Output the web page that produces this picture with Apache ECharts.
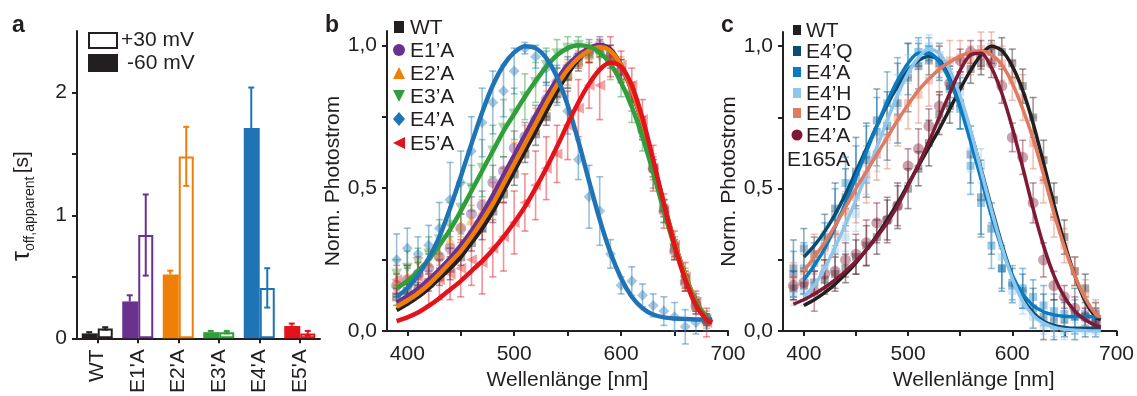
<!DOCTYPE html>
<html><head><meta charset="utf-8">
<script src="https://cdn.jsdelivr.net/npm/echarts@6/dist/echarts.min.js"></script>
<style>html,body{margin:0;padding:0;background:#fff}#c{width:1137px;height:396px}</style>
</head><body><div id="c"></div>
<script>
// ---------- Panel a data ----------
const catsA = ['WT', "E1'A", "E2'A", "E3'A", "E4'A", "E5'A"];
const neg60 = [0.04, 0.30, 0.52, 0.05, 1.71, 0.10];
const neg60Err = [0.01, 0.05, 0.03, 0.01, 0.33, 0.02];
const pos30 = [0.08, 0.84, 1.48, 0.05, 0.41, 0.04];
const pos30Err = [0.01, 0.33, 0.24, 0.01, 0.16, 0.02];
const yTicksA = [0, 1, 2];

// ---------- wavelengths ----------
const wl = [390,400,410,420,430,440,450,460,470,480,490,500,510,520,530,540,550,560,570,580,590,600,610,620,630,640,650,660,670,680];
const fitWl = [390,400,410,420,430,440,450,460,470,480,490,500,510,520,530,540,550,560,570,580,590,600,610,620,630,640,650,660,670,680,685];
const xTickLabels = [400, 500, 600, 700];
const yTickLabels = [0, 0.5, 1.0];

// ---------- Panel b data ----------
const bNames = ['WT', 'E1’A', 'E2’A', 'E3’A', 'E4’A', 'E5’A'];
const bWT_pts = [0.12,0.14,0.15,0.17,0.19,0.22,0.26,0.31,0.36,0.42,0.48,0.55,0.62,0.69,0.75,0.83,0.89,0.94,0.97,0.99,0.97,0.91,0.83,0.71,0.57,0.43,0.29,0.18,0.09,0.04];
const bWT_err = [0.03,0.03,0.02,0.03,0.03,0.04,0.03,0.03,0.04,0.04,0.03,0.04,0.03,0.04,0.03,0.03,0.04,0.03,0.03,0.03,0.03,0.04,0.03,0.03,0.03,0.03,0.03,0.03,0.02,0.02];
const bE1_pts = [0.16,0.18,0.20,0.22,0.26,0.29,0.36,0.41,0.44,0.52,0.56,0.64,0.68,0.74,0.81,0.87,0.92,0.96,0.98,1.00,0.96,0.91,0.82,0.71,0.57,0.42,0.28,0.17,0.09,0.04];
const bE1_err = [0.04,0.05,0.04,0.05,0.05,0.06,0.05,0.06,0.05,0.06,0.05,0.06,0.05,0.05,0.06,0.05,0.04,0.04,0.04,0.03,0.04,0.04,0.05,0.04,0.04,0.04,0.03,0.03,0.03,0.02];
const bE2_pts = [0.17,0.19,0.21,0.24,0.27,0.32,0.37,0.39,0.42,0.47,0.53,0.61,0.68,0.74,0.79,0.85,0.90,0.95,0.97,0.99,0.96,0.92,0.83,0.72,0.58,0.43,0.29,0.18,0.09,0.04];
const bE2_err = [0.03,0.04,0.03,0.04,0.04,0.05,0.04,0.05,0.04,0.05,0.04,0.05,0.04,0.04,0.05,0.04,0.04,0.03,0.03,0.03,0.03,0.04,0.04,0.03,0.04,0.03,0.03,0.03,0.02,0.02];
const bE3_pts = [0.20,0.22,0.24,0.27,0.32,0.37,0.43,0.50,0.57,0.63,0.71,0.76,0.82,0.87,0.93,0.97,0.99,1.00,0.98,0.96,0.93,0.87,0.79,0.68,0.55,0.42,0.29,0.18,0.10,0.04];
const bE3_err = [0.05,0.06,0.05,0.06,0.07,0.08,0.09,0.08,0.10,0.09,0.10,0.09,0.08,0.07,0.06,0.05,0.04,0.03,0.03,0.04,0.05,0.05,0.06,0.05,0.05,0.04,0.04,0.04,0.03,0.03];
const bE4_pts = [0.25,0.29,0.27,0.30,0.36,0.46,0.52,0.63,0.73,0.80,0.84,0.91,0.99,0.96,0.92,0.86,0.77,0.60,0.47,0.42,0.27,0.16,0.175,0.125,0.09,0.07,0.05,0.015,0.03,0.03];
const bE4_err = [0.09,0.07,0.06,0.07,0.09,0.13,0.11,0.12,0.12,0.11,0.09,0.08,0.02,0.04,0.06,0.07,0.08,0.07,0.11,0.12,0.05,0.03,0.05,0.04,0.04,0.05,0.05,0.06,0.04,0.03];
const bE5_pts = [0.18,0.17,0.19,0.17,0.18,0.20,0.22,0.25,0.24,0.29,0.33,0.38,0.45,0.51,0.57,0.62,0.72,0.78,0.86,0.86,0.96,0.93,0.86,0.74,0.57,0.42,0.30,0.19,0.10,0.03];
const bE5_err = [0.05,0.06,0.07,0.08,0.07,0.09,0.10,0.09,0.11,0.10,0.12,0.11,0.10,0.12,0.11,0.10,0.12,0.10,0.08,0.12,0.07,0.05,0.06,0.07,0.08,0.06,0.05,0.05,0.04,0.05];
const bWT_fit = [0.074,0.095,0.12,0.15,0.185,0.22,0.26,0.31,0.36,0.42,0.49,0.56,0.63,0.70,0.77,0.84,0.90,0.95,0.985,1.00,0.985,0.93,0.845,0.73,0.59,0.445,0.31,0.195,0.105,0.045,0.03];
const bE1_fit = [0.10,0.122,0.148,0.18,0.215,0.255,0.30,0.35,0.41,0.475,0.545,0.615,0.685,0.755,0.82,0.88,0.93,0.965,0.99,1.00,0.98,0.925,0.84,0.725,0.585,0.44,0.305,0.19,0.10,0.045,0.03];
const bE2_fit = [0.085,0.107,0.132,0.163,0.20,0.24,0.28,0.33,0.385,0.445,0.515,0.585,0.655,0.725,0.795,0.86,0.915,0.955,0.982,0.993,0.98,0.93,0.845,0.73,0.59,0.445,0.31,0.195,0.105,0.045,0.03];
const bE3_fit = [0.15,0.175,0.21,0.25,0.30,0.355,0.42,0.49,0.56,0.63,0.70,0.76,0.82,0.875,0.925,0.965,0.99,1.00,0.995,0.975,0.935,0.87,0.785,0.68,0.555,0.42,0.295,0.185,0.10,0.045,0.035];
const bE4_fit = [0.12,0.15,0.195,0.255,0.33,0.43,0.54,0.655,0.765,0.86,0.93,0.975,0.997,0.99,0.955,0.89,0.79,0.665,0.525,0.39,0.275,0.185,0.12,0.08,0.058,0.048,0.044,0.042,0.041,0.041,0.041];
const bE5_fit = [0.035,0.048,0.065,0.088,0.115,0.145,0.175,0.21,0.245,0.285,0.33,0.38,0.435,0.50,0.57,0.645,0.725,0.80,0.865,0.915,0.94,0.925,0.86,0.745,0.60,0.445,0.30,0.18,0.09,0.04,0.03];

// ---------- Panel c data ----------
const cNames = ['WT', 'E4’Q', 'E4’A', 'E4’H', 'E4’D', 'E4’A'];
const cWT_pts = [0.15,0.16,0.17,0.18,0.20,0.22,0.26,0.30,0.33,0.39,0.44,0.50,0.57,0.66,0.76,0.79,0.86,0.92,0.94,0.98,0.98,0.94,0.86,0.75,0.60,0.46,0.33,0.21,0.15,0.06];
const cWT_err = [0.04,0.05,0.04,0.05,0.06,0.05,0.06,0.07,0.06,0.07,0.08,0.07,0.06,0.08,0.07,0.06,0.05,0.05,0.04,0.04,0.05,0.05,0.06,0.07,0.07,0.06,0.06,0.05,0.05,0.04];
const cQ_pts = [0.22,0.29,0.27,0.33,0.43,0.47,0.56,0.60,0.74,0.72,0.80,0.89,0.93,0.95,0.94,0.86,0.80,0.62,0.47,0.36,0.22,0.16,0.14,0.08,0.05,0.04,0.04,0.06,0.05,0.03];
const cQ_err = [0.10,0.07,0.06,0.08,0.09,0.10,0.12,0.13,0.11,0.12,0.14,0.12,0.08,0.05,0.06,0.07,0.09,0.10,0.13,0.09,0.08,0.06,0.06,0.07,0.08,0.07,0.06,0.09,0.07,0.05];
const cA_pts = [0.20,0.22,0.24,0.30,0.40,0.52,0.54,0.62,0.70,0.80,0.86,0.92,0.98,0.99,0.95,0.85,0.78,0.58,0.45,0.30,0.22,0.17,0.15,0.12,0.09,0.07,0.06,0.05,0.06,0.04];
const cA_err = [0.08,0.09,0.07,0.08,0.10,0.09,0.11,0.10,0.12,0.11,0.10,0.09,0.05,0.04,0.06,0.08,0.07,0.10,0.12,0.08,0.07,0.06,0.07,0.06,0.07,0.06,0.05,0.06,0.05,0.04];
const cH_pts = [0.13,0.14,0.17,0.22,0.28,0.33,0.41,0.53,0.62,0.73,0.84,0.92,0.98,1.00,0.97,0.90,0.84,0.63,0.58,0.36,0.26,0.14,0.10,0.05,0.02,0.01,0.00,0.00,0.01,0.00];
const cH_err = [0.04,0.05,0.04,0.05,0.06,0.05,0.06,0.05,0.06,0.07,0.06,0.05,0.04,0.04,0.04,0.05,0.06,0.07,0.06,0.05,0.05,0.04,0.04,0.04,0.03,0.03,0.03,0.03,0.02,0.02];
const cD_pts = [0.19,0.21,0.27,0.29,0.34,0.42,0.47,0.55,0.62,0.68,0.75,0.80,0.83,0.88,0.92,0.95,0.96,0.95,0.99,1.00,0.94,0.88,0.82,0.66,0.53,0.40,0.30,0.21,0.13,0.07];
const cD_err = [0.05,0.06,0.07,0.06,0.08,0.07,0.09,0.10,0.09,0.11,0.10,0.09,0.10,0.09,0.08,0.07,0.06,0.05,0.06,0.05,0.06,0.07,0.08,0.09,0.08,0.07,0.06,0.05,0.05,0.04];
const cE_pts = [0.16,0.17,0.14,0.20,0.21,0.25,0.27,0.31,0.38,0.39,0.44,0.58,0.64,0.72,0.79,0.87,0.95,0.98,0.97,0.94,0.86,0.68,0.61,0.45,0.25,0.16,0.12,0.08,0.05,0.03];
const cE_err = [0.05,0.04,0.07,0.05,0.06,0.06,0.07,0.08,0.07,0.08,0.07,0.06,0.07,0.06,0.05,0.05,0.04,0.04,0.05,0.05,0.06,0.05,0.06,0.07,0.06,0.05,0.04,0.04,0.03,0.03];
const cWT_fit = [null,0.09,0.11,0.135,0.165,0.20,0.24,0.285,0.335,0.39,0.45,0.515,0.58,0.645,0.71,0.78,0.85,0.915,0.97,1.00,0.985,0.93,0.845,0.73,0.59,0.445,0.31,0.195,0.105,0.05,0.04];
const cQ_fit = [null,0.26,0.30,0.35,0.41,0.48,0.56,0.64,0.72,0.795,0.86,0.915,0.95,0.965,0.95,0.895,0.81,0.70,0.57,0.435,0.305,0.195,0.115,0.065,0.035,0.02,0.013,0.01,0.01,0.01,0.01];
const cA_fit = [null,0.18,0.23,0.29,0.365,0.45,0.54,0.63,0.72,0.805,0.88,0.94,0.975,0.975,0.945,0.88,0.785,0.665,0.535,0.405,0.29,0.195,0.13,0.09,0.068,0.057,0.052,0.05,0.05,0.05,0.05];
const cH_fit = [null,0.12,0.16,0.22,0.295,0.375,0.46,0.55,0.645,0.74,0.83,0.905,0.96,0.99,0.975,0.915,0.825,0.705,0.565,0.425,0.295,0.185,0.105,0.055,0.028,0.013,0.006,0.003,0.001,0.0,0.0];
const cD_fit = [null,0.21,0.26,0.31,0.37,0.435,0.50,0.56,0.62,0.68,0.74,0.795,0.845,0.885,0.92,0.945,0.965,0.978,0.983,0.97,0.935,0.87,0.78,0.675,0.55,0.415,0.295,0.195,0.115,0.06,0.05];
const cE_fit = [0.095,0.11,0.13,0.153,0.18,0.21,0.245,0.285,0.33,0.38,0.44,0.51,0.585,0.665,0.75,0.835,0.915,0.97,0.975,0.925,0.835,0.715,0.575,0.43,0.30,0.195,0.12,0.07,0.04,0.02,0.015];

// ---------- styling ----------
const INK = '#231f20';
const FONT = 'Liberation Sans, Arial, Helvetica, sans-serif';
const FS = 21;
const colA = ['#231f20', '#6b318f', '#f07f0a', '#2f9e3b', '#1f74b5', '#e3121b'];
const colB = colA;
const colC = ['#231f20', '#0b4c74', '#0b7bbf', '#8ec6ec', '#e07a60', '#7d1a35'];
const symB = ['rect', 'circle', 'triangle', 'path://M0,0 L10,0 L5,10 Z', 'diamond', 'path://M10,0 L10,10 L0,5 Z'];

const chart = echarts.init(document.getElementById('c'), null, {renderer: 'canvas'});

function errRender(colorFn, cap, width, opacity, xShiftFn) {
  return function (params, api) {
    const x = api.value(0), lo = api.value(1), hi = api.value(2);
    const p1 = api.coord([x, lo]), p2 = api.coord([x, hi]);
    const dx = xShiftFn ? xShiftFn(params.dataIndex) : 0;
    const style = {stroke: colorFn(params.dataIndex), lineWidth: width, opacity: opacity};
    const xs = p1[0] + dx;
    const kids = [
      {type: 'line', shape: {x1: xs, y1: p1[1], x2: xs, y2: p2[1]}, style: style},
      {type: 'line', shape: {x1: xs - cap, y1: p2[1], x2: xs + cap, y2: p2[1]}, style: style}
    ];
    if (api.value(3) === 1) kids.push({type: 'line', shape: {x1: xs - cap, y1: p1[1], x2: xs + cap, y2: p1[1]}, style: style});
    return {type: 'group', children: kids};
  };
}

const axisLine = {show: true, lineStyle: {color: INK, width: 2}};
const lbl = {color: INK, fontSize: FS, fontFamily: FONT};
const comma = v => v.toFixed(1).replace('.', ',');

const series = [];

// Panel a bars
series.push({
  type: 'bar', name: '-60 mV', xAxisIndex: 0, yAxisIndex: 0, barWidth: 16, barGap: '0%',
  data: neg60.map((v, i) => ({value: v, itemStyle: {color: colA[i]}})), z: 2
});
series.push({
  type: 'bar', name: '+30 mV', xAxisIndex: 0, yAxisIndex: 0, barWidth: 15, barGap: '0%',
  data: pos30.map((v, i) => ({value: v, itemStyle: {color: '#fff', borderColor: colA[i], borderWidth: 2}})), z: 2
});
const errA = [];
const errAcol = [];
const errAshift = [];
catsA.forEach((c, i) => {
  errA.push([i, neg60[i], neg60[i] + neg60Err[i], 0]); errAcol.push(colA[i]); errAshift.push(-8);
  errA.push([i, pos30[i] - pos30Err[i], pos30[i] + pos30Err[i], 1]); errAcol.push(colA[i]); errAshift.push(8);
});
series.push({
  type: 'custom', xAxisIndex: 0, yAxisIndex: 0, z: 5, data: errA,
  renderItem: errRender(i => errAcol[i], 3, 2, 1, i => errAshift[i])
});

// Panel b / c scatter+errors+fits
function addGroup(ax, pts, err, fit, color, sym, symSize, lw, fitX) {
  series.push({
    type: 'custom', xAxisIndex: ax, yAxisIndex: ax, z: 1,
    data: wl.map((x, i) => [x, pts[i] - err[i], pts[i] + err[i], 1]),
    renderItem: errRender(() => color, 3.5, 1.6, 0.45)
  });
  series.push({
    type: 'scatter', xAxisIndex: ax, yAxisIndex: ax, z: 2, symbol: sym, symbolSize: symSize,
    itemStyle: {color: color, opacity: 0.4}, silent: true,
    data: wl.map((x, i) => [x, pts[i]])
  });
  series.push({
    type: 'line', xAxisIndex: ax, yAxisIndex: ax, z: 4, smooth: 0.3, showSymbol: false, connectNulls: false,
    lineStyle: {color: color, width: lw}, itemStyle: {color: color},
    data: fitX.map((x, i) => [x, fit[i]])
  });
}
const bP = [bWT_pts, bE1_pts, bE2_pts, bE3_pts, bE4_pts, bE5_pts];
const bErr = [bWT_err, bE1_err, bE2_err, bE3_err, bE4_err, bE5_err];
const bFit = [bWT_fit, bE1_fit, bE2_fit, bE3_fit, bE4_fit, bE5_fit];
for (let k = 0; k < 6; k++) addGroup(1, bP[k], bErr[k], bFit[k], colB[k], symB[k], k === 0 ? 9 : 11, 4.5, fitWl);
const cP = [cWT_pts, cQ_pts, cA_pts, cH_pts, cD_pts, cE_pts];
const cErr = [cWT_err, cQ_err, cA_err, cH_err, cD_err, cE_err];
const cFit = [cWT_fit, cQ_fit, cA_fit, cH_fit, cD_fit, cE_fit];
for (let k = 0; k < 6; k++) addGroup(2, cP[k], cErr[k], cFit[k], colC[k], k === 5 ? 'circle' : 'rect', k === 5 ? 11 : 8, 3.5, fitWl);

// ---------- graphics (labels, legends) ----------
const txt = (x, y, t, extra) => Object.assign({type: 'text', x: x, y: y, silent: true,
  style: Object.assign({text: t, fill: INK, fontSize: FS, fontFamily: FONT, verticalAlign: 'middle'}, extra || {})});
const graphics = [
  txt(12, 26, 'a', {fontWeight: 'bold', fontSize: 23}),
  txt(325, 26, 'b', {fontWeight: 'bold', fontSize: 23}),
  txt(721, 26, 'c', {fontWeight: 'bold', fontSize: 23}),
  {type: 'rect', shape: {x: 89, y: 33, width: 28, height: 15}, style: {fill: '#fff', stroke: INK, lineWidth: 2}, silent: true},
  {type: 'rect', shape: {x: 88, y: 54, width: 30, height: 18}, style: {fill: INK}, silent: true},
  txt(121, 40, '+30 mV'),
  txt(127, 63, '-60 mV'),
  {type: 'text', x: 22, y: 206, rotation: Math.PI / 2, silent: true,
    style: {text: '{t|τ}{s|off,apparent} {m|[s]}', align: 'center', verticalAlign: 'middle', fill: INK, fontFamily: FONT,
      rich: {t: {fontSize: 25, fontFamily: FONT, fill: INK, lineHeight: 30, verticalAlign: 'middle'},
             s: {fontSize: 14, fontFamily: FONT, fill: INK, verticalAlign: 'bottom', lineHeight: 14},
             m: {fontSize: FS, fontFamily: FONT, fill: INK, lineHeight: 30, verticalAlign: 'middle'}}}}
];
// legend b
const bLegY = [27, 50, 73, 96, 119, 143];
const mk = (kind, cx, cy, color, s) => {
  if (kind === 'rect') return {type: 'rect', shape: {x: cx - s / 2 + 1, y: cy - s / 2, width: s - 2, height: s}, style: {fill: color}, silent: true};
  if (kind === 'circle') return {type: 'circle', shape: {cx: cx, cy: cy, r: s / 2}, style: {fill: color}, silent: true};
  const h = s / 2;
  const pts = {
    up: [[cx, cy - h], [cx + h, cy + h], [cx - h, cy + h]],
    down: [[cx - h, cy - h], [cx + h, cy - h], [cx, cy + h]],
    diamond: [[cx, cy - h - 1], [cx + h, cy], [cx, cy + h + 1], [cx - h, cy]],
    left: [[cx + h, cy - h], [cx + h, cy + h], [cx - h, cy]]
  }[kind];
  return {type: 'polygon', shape: {points: pts}, style: {fill: color}, silent: true};
};
const bKinds = ['rect', 'circle', 'up', 'down', 'diamond', 'left'];
bNames.forEach((n, i) => {
  graphics.push(mk(bKinds[i], 399, bLegY[i], colB[i], 12));
  graphics.push(txt(410, bLegY[i] + 1, n));
});
// legend c
const cLegY = [30, 51, 72, 93, 113, 135];
cNames.forEach((n, i) => {
  graphics.push(mk(i === 5 ? 'circle' : 'rect', 797, cLegY[i], colC[i], i === 5 ? 11 : 10));
  graphics.push(txt(806, cLegY[i] + 1, n));
});
graphics.push(txt(787, 160, 'E165A'));

const valX = (grid, min, shift) => ({
  type: 'value', gridIndex: grid, min: min, max: 700,
  axisLine: axisLine, splitLine: {show: false},
  axisTick: {show: true, length: 5, lineStyle: {color: INK, width: 2}, customValues: [400, 450, 500, 550, 600, 650, 700]},
  axisLabel: Object.assign({margin: 13, customValues: xTickLabels}, lbl),
  name: 'Wellenlänge [nm]', nameLocation: 'middle', nameGap: 30,
  nameTextStyle: {color: INK, fontSize: FS, fontFamily: FONT, padding: [0, 0, 0, shift * 2]}
});
const valY = (grid, gap) => ({
  type: 'value', gridIndex: grid, min: 0, max: 1.05,
  axisLine: axisLine, splitLine: {show: false},
  axisTick: {show: true, length: 5, lineStyle: {color: INK, width: 2}, customValues: [0, 0.25, 0.5, 0.75, 1.0]},
  axisLabel: Object.assign({margin: 10, customValues: yTickLabels, formatter: comma}, lbl),
  name: 'Norm. Photostrom', nameLocation: 'middle', nameGap: gap, nameRotate: 90,
  nameTextStyle: {color: INK, fontSize: FS, fontFamily: FONT}
});

chart.setOption({
  animation: false,
  backgroundColor: '#fff',
  grid: [
    {left: 77, top: 31, width: 243, height: 310},
    {left: 387, top: 31, width: 341, height: 311},
    {left: 783, top: 32, width: 342, height: 311}
  ],
  xAxis: [
    {type: 'category', gridIndex: 0, data: catsA, axisLine: axisLine,
     axisTick: {show: true, alignWithLabel: true, length: 5, lineStyle: {color: INK, width: 2}},
     axisLabel: Object.assign({rotate: 90, margin: 11}, lbl)},
    valX(1, 381, 10),
    valX(2, 380, 24)
  ],
  yAxis: [
    {type: 'value', gridIndex: 0, min: 0, max: 2.5, axisLine: axisLine, splitLine: {show: false},
     axisTick: {show: true, length: 5, lineStyle: {color: INK, width: 2}, customValues: [0, 0.5, 1, 1.5, 2]},
     axisLabel: Object.assign({margin: 10, customValues: yTicksA}, lbl)},
    valY(1, 36),
    valY(2, 43)
  ],
  series: series,
  graphic: graphics
});
</script></body></html>
